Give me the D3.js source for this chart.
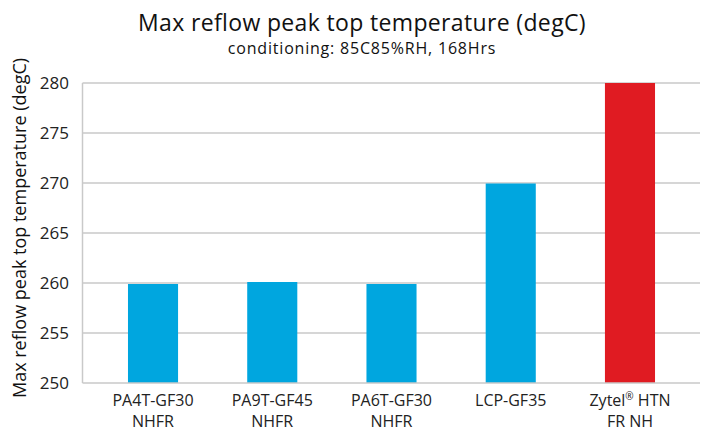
<!DOCTYPE html>
<html><head><meta charset="utf-8">
<script src="https://cdn.jsdelivr.net/npm/d3@7"></script>
<style>body{margin:0;background:#fff}</style>
</head><body>
<svg id="chart" width="702" height="432"></svg>
<script>
const categories = [["PA4T-GF30","NHFR"],["PA9T-GF45","NHFR"],["PA6T-GF30","NHFR"],["LCP-GF35"],["Zytel\u00AE HTN","FR NH"]];
const values = [259.9, 260.1, 259.9, 269.95, 280];
const highlight = [false, false, false, false, true];
const yTicks = [250, 255, 260, 265, 270, 275, 280];
const titleText = "Max reflow peak top temperature (degC)";
const subtitleText = "conditioning: 85C85%RH, 168Hrs";
const yTitle = "Max reflow peak top temperature (degC)";

const svg = d3.select("#chart");
const font = "'Open Sans', 'Noto Sans', sans-serif";
const plot = {left: 82.5, right: 700, top: 83, bottom: 383};

const x = d3.scaleBand().domain(d3.range(categories.length)).range([93.4, 689.6]).paddingInner(0.58).paddingOuter(0.29);
const y = d3.scaleLinear().domain([250, 280]).range([plot.bottom, plot.top]);

// gridlines
svg.append("g").selectAll("line").data(yTicks.filter(t => t > 250)).join("line")
  .attr("x1", plot.left).attr("x2", plot.right)
  .attr("y1", d => y(d)).attr("y2", d => y(d))
  .attr("stroke", "#c9c9c9").attr("stroke-width", 1.5);

// bars
svg.append("g").selectAll("rect").data(values).join("rect")
  .attr("x", (d, i) => x(i)).attr("width", x.bandwidth())
  .attr("y", d => y(d)).attr("height", d => y(250) - y(d))
  .attr("fill", (d, i) => highlight[i] ? "#e01b22" : "#00a6df");

// axis lines
svg.append("line").attr("x1", plot.left).attr("x2", plot.left).attr("y1", plot.top).attr("y2", plot.bottom)
  .attr("stroke", "#c9c9c9").attr("stroke-width", 1.5);
svg.append("line").attr("x1", plot.left).attr("x2", plot.right).attr("y1", plot.bottom).attr("y2", plot.bottom)
  .attr("stroke", "#c9c9c9").attr("stroke-width", 1.5);

// y axis labels
const yAxis = d3.axisLeft(y).tickValues(yTicks).tickSize(0).tickPadding(0);
const gy = svg.append("g").attr("transform", `translate(69,0)`).call(yAxis);
gy.select(".domain").remove();
gy.selectAll("text").attr("font-family", font).attr("font-size", 17).attr("fill", "#222");

// x labels
const gx = svg.append("g");
categories.forEach((lines, i) => {
  const cx = x(i) + x.bandwidth() / 2;
  const t = gx.append("text").attr("text-anchor", "middle")
    .attr("font-family", font).attr("font-size", 16).attr("fill", "#222")
    .attr("x", cx).attr("y", 406);
  lines.forEach((ln, j) => {
    const parts = ln.split("\u00AE");
    t.append("tspan").attr("x", cx).attr("dy", j === 0 ? 0 : 21).text(parts[0]);
    if (parts.length > 1) {
      t.append("tspan").attr("font-size", 10).attr("dy", -6).text("\u00AE");
      t.append("tspan").attr("dy", 6).text(parts[1]);
    }
  });
});

// y title
svg.append("text").attr("transform", "translate(26,228) rotate(-90)")
  .attr("text-anchor", "middle").attr("font-family", font).attr("font-size", 18).attr("fill", "#111")
  .text(yTitle);

// titles
svg.append("text").attr("x", 362).attr("y", 31).attr("text-anchor", "middle")
  .attr("font-family", font).attr("font-size", 23).attr("letter-spacing", 0.35).attr("fill", "#111").text(titleText);
svg.append("text").attr("x", 362).attr("y", 54).attr("text-anchor", "middle")
  .attr("font-family", font).attr("font-size", 16).attr("letter-spacing", 0.8).attr("fill", "#111").text(subtitleText);
</script>
</body></html>
